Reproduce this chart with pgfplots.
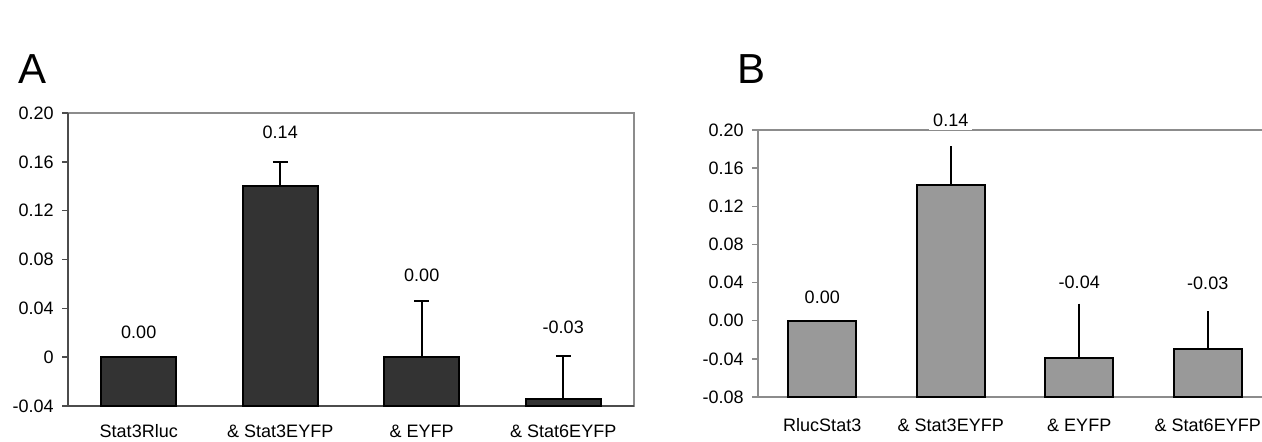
\documentclass[border=0pt]{standalone}
\usepackage{fontspec}
\setmainfont{Liberation Sans}
\usepackage{pgfplots}
\usepackage{pgfplotstable}
\pgfplotsset{compat=1.18}

% values; bars start at the bottom of each axis
\pgfplotstableread{
x y e
0 0.000 0.000
1 0.140 0.020
2 0.000 0.046
3 -0.034 0.035
}\dataA
\pgfplotstableread{
x y e
0 0.000 0.000
1 0.142 0.041
2 -0.039 0.057
3 -0.030 0.040
}\dataB

\definecolor{barA}{HTML}{333333}
\definecolor{barB}{HTML}{999999}
\definecolor{frame}{HTML}{8C8C8C}

\newcommand{\chartfont}{\fontsize{9}{11}\selectfont}

\begin{document}
\begin{tikzpicture}

\node[font=\fontsize{21}{24}\selectfont] at (16.5pt,186pt) {A};
\node[font=\fontsize{21}{24}\selectfont] at (375.5pt,186pt) {B};

% ---------- panel A ----------
\begin{axis}[
    at={(34pt,17.5pt)}, anchor=south west,
    scale only axis, width=283pt, height=146.5pt,
    xmin=-0.5, xmax=3.5, ymin=0, ymax=0.24,
    clip=false,
    axis background/.style={draw=frame, line width=0.75pt},
    axis x line*=bottom, axis y line*=left,
    axis line style={black!70, line width=0.75pt},
    xtick={0,1,2,3},
    xticklabels={Stat3Rluc, \& Stat3EYFP, \& EYFP, \& Stat6EYFP},
    xtick style={draw=none},
    ytick={0,0.04,0.08,0.12,0.16,0.2,0.24},
    yticklabels={-0.04,0,0.04,0.08,0.12,0.16,0.20},
    tick align=outside, major tick length=3pt,
    ytick style={black!70, line width=0.75pt},
    tick label style={font=\chartfont},
    yticklabel style={inner sep=0pt, xshift=-4pt},
    xticklabel style={inner sep=0pt, anchor=base, yshift=-12.5pt},
]
\addplot[ybar, bar width=37.5pt, fill=barA, draw=black, line width=0.9pt,
    error bars/.cd, y dir=plus, y explicit,
    error bar style={black, line width=0.8pt},
    error mark options={black, line width=0.8pt, mark size=3.75pt, rotate=90}]
    table[x=x, y expr=\thisrow{y}+0.04, y error=e] {\dataA};
\addplot[only marks, mark=*, mark size=0pt, mark options={draw=none, fill=none},
    nodes near coords, point meta=explicit symbolic,
    nodes near coords style={anchor=center, font=\chartfont, black}]
    coordinates {(0,0.0605)[0.00] (1,0.2244)[0.14] (2,0.1072)[0.00] (3,0.0646)[-0.03]};
\end{axis}

% ---------- panel B ----------
\begin{axis}[
    at={(379pt,22pt)}, anchor=south west,
    scale only axis, width=257pt, height=133.5pt,
    xmin=-0.5, xmax=3.5, ymin=0, ymax=0.28,
    clip=false,
    axis line style={frame, line width=0.75pt},
    xtick={0,1,2,3},
    xticklabels={RlucStat3, \& Stat3EYFP, \& EYFP, \& Stat6EYFP},
    xtick style={draw=none},
    extra x ticks={-0.5,0.5,1.5,2.5,3.5}, extra x tick labels={},
    extra x tick style={tick style={frame, line width=0.75pt}},
    ytick={0,0.04,0.08,0.12,0.16,0.2,0.24,0.28},
    yticklabels={-0.08,-0.04,0.00,0.04,0.08,0.12,0.16,0.20},
    tick align=outside, major tick length=3pt,
    ytick style={frame, line width=0.75pt},
    tick label style={font=\chartfont},
    yticklabel style={inner sep=0pt, xshift=-4pt},
    xticklabel style={inner sep=0pt, anchor=base, yshift=-14pt},
]
\addplot[ybar, bar width=34pt, fill=barB, draw=black, line width=0.9pt,
    error bars/.cd, y dir=plus, y explicit,
    error bar style={black, line width=0.8pt},
    error mark=none]
    table[x=x, y expr=\thisrow{y}+0.08, y error=e] {\dataB};
\addplot[only marks, mark=*, mark size=0pt, mark options={draw=none, fill=none},
    nodes near coords, point meta=explicit symbolic,
    nodes near coords style={anchor=center, font=\chartfont, black, fill=white, inner sep=2pt}]
    coordinates {(0,0.1049)[0.00] (1,0.2905)[0.14] (2,0.1206)[-0.04] (3,0.1195)[-0.03]};
\end{axis}

\pgfresetboundingbox
\path[use as bounding box] (0,0) rectangle (631pt,220.5pt);
\end{tikzpicture}
\end{document}
